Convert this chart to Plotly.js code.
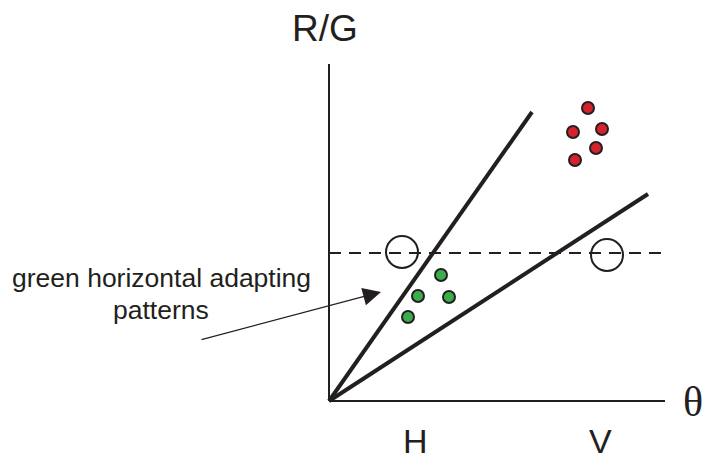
<!DOCTYPE html>
<html>
<head>
<meta charset="utf-8">
<script src="https://cdn.plot.ly/plotly-3.0.1.min.js"></script>
<style>html,body{margin:0;padding:0;background:#fff;}#chart{width:706px;height:462px;}</style>
</head>
<body>
<div id="chart"></div>
<script>
// Conceptual coordinates: theta (x) vs R/G (y), origin at the axes corner
const greenX = [1.12, 0.89, 1.20, 0.79];
const greenY = [1.26, 1.05, 1.04, 0.84];
const redX = [2.59, 2.44, 2.73, 2.67, 2.46];
const redY = [2.93, 2.69, 2.72, 2.53, 2.41];
const openX = [0.73, 2.78];
const openY = [1.49, 1.46];
const steepLineX = [0, 2.03];
const steepLineY = [0, 2.89];
const shallowLineX = [0, 3.19];
const shallowLineY = [0, 2.07];
const thresholdY = 1.48;
const thresholdX = [0, 3.38];
const axisXEnd = 3.36;
const axisYEnd = 3.37;
const tickLabels = ['H', 'V'];
const tickPos = [0.86, 2.71];
const labelText = ['green horizontal adapting', 'patterns'];

const ink = '#231f20';
const traces = [
  {x: [0, 0], y: [0, axisYEnd], mode: 'lines', line: {color: ink, width: 2}},
  {x: [0, axisXEnd], y: [0, 0], mode: 'lines', line: {color: ink, width: 2}},
  {x: thresholdX, y: [thresholdY, thresholdY], mode: 'lines', line: {color: ink, width: 2, dash: '12px,8px'}},
  {x: steepLineX, y: steepLineY, mode: 'lines', line: {color: ink, width: 4}},
  {x: shallowLineX, y: shallowLineY, mode: 'lines', line: {color: ink, width: 4}},
  {x: openX, y: openY, mode: 'markers', marker: {size: 32, color: 'rgba(0,0,0,0)', line: {color: ink, width: 2}}},
  {x: greenX, y: greenY, mode: 'markers', marker: {size: 12, color: '#3bad4a', line: {color: ink, width: 2}}},
  {x: redX, y: redY, mode: 'markers', marker: {size: 12, color: '#d6222c', line: {color: ink, width: 2}}}
];

const fontSans = 'Liberation Sans, Arial, sans-serif';
const annotations = [
  {x: -0.04, y: 3.73, text: 'R/G', font: {size: 37}},
  {x: 3.64, y: -0.01, text: 'θ', font: {size: 42, family: 'Liberation Serif, Times New Roman, serif'}},
  {x: tickPos[0], y: -0.40, text: tickLabels[0], font: {size: 34}},
  {x: tickPos[1], y: -0.40, text: tickLabels[1], font: {size: 34}},
  {x: -1.68, y: 1.23, text: labelText[0], font: {size: 26.5}},
  {x: -1.68, y: 0.91, text: labelText[1], font: {size: 26.5}},
  {x: 0.52, y: 1.09, ax: -1.29, ay: 0.61, axref: 'x', ayref: 'y', xref: 'x', yref: 'y',
   showarrow: true, arrowhead: 2, arrowsize: 3, arrowwidth: 1.2, arrowcolor: ink, text: ''}
].map(a => Object.assign({xref: 'x', yref: 'y', showarrow: false, xanchor: 'center', yanchor: 'middle',
  }, a, {font: Object.assign({family: fontSans, color: ink}, a.font || {})}));

const layout = {
  width: 706, height: 462,
  margin: {l: 0, r: 0, t: 0, b: 0},
  paper_bgcolor: '#fff', plot_bgcolor: '#fff',
  showlegend: false,
  xaxis: {range: [-3.29, 3.77], visible: false, fixedrange: true},
  yaxis: {range: [-0.61, 4.01], visible: false, fixedrange: true},
  annotations: annotations
};
Plotly.newPlot('chart', traces, layout, {displayModeBar: false, staticPlot: true});
</script>
</body>
</html>
